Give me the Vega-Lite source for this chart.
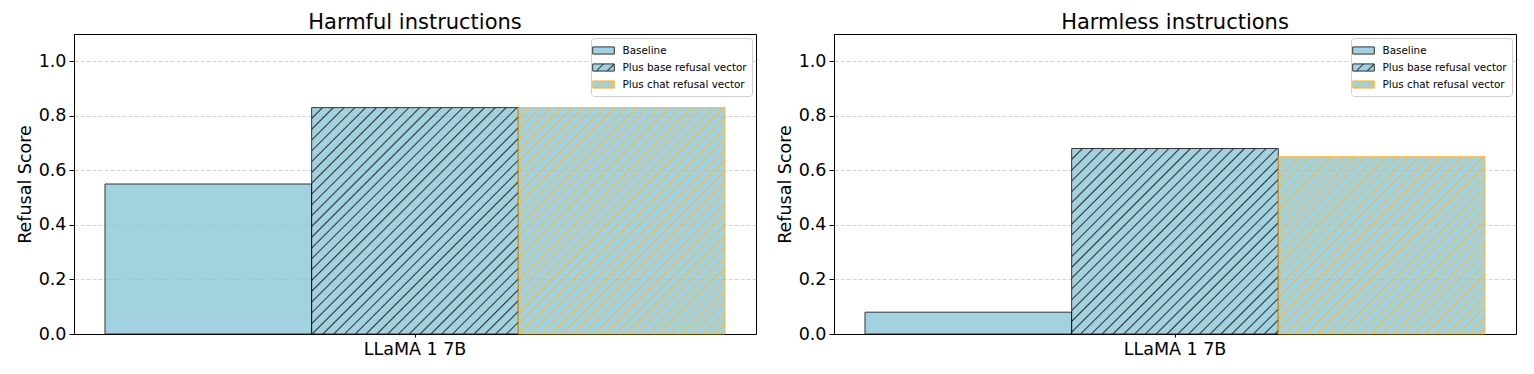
{
  "$schema": "https://vega.github.io/schema/vega-lite/v6.json",
  "padding": {"left": 15, "top": 11, "right": 5, "bottom": 5},
  "params": [
    {"name": "hb", "value": [
      {"offset":0,"color":"#8cc8d8"},
      {"offset":0.0215,"color":"#8cc8d8"},{"offset":0.025,"color":"#000"},{"offset":0.0285,"color":"#8cc8d8"},
      {"offset":0.0465,"color":"#8cc8d8"},{"offset":0.05,"color":"#000"},{"offset":0.0535,"color":"#8cc8d8"},
      {"offset":0.0715,"color":"#8cc8d8"},{"offset":0.075,"color":"#000"},{"offset":0.0785,"color":"#8cc8d8"},
      {"offset":0.0965,"color":"#8cc8d8"},{"offset":0.1,"color":"#000"},{"offset":0.1035,"color":"#8cc8d8"},
      {"offset":0.1215,"color":"#8cc8d8"},{"offset":0.125,"color":"#000"},{"offset":0.1285,"color":"#8cc8d8"},
      {"offset":0.1465,"color":"#8cc8d8"},{"offset":0.15,"color":"#000"},{"offset":0.1535,"color":"#8cc8d8"},
      {"offset":0.1715,"color":"#8cc8d8"},{"offset":0.175,"color":"#000"},{"offset":0.1785,"color":"#8cc8d8"},
      {"offset":0.1965,"color":"#8cc8d8"},{"offset":0.2,"color":"#000"},{"offset":0.2035,"color":"#8cc8d8"},
      {"offset":0.2215,"color":"#8cc8d8"},{"offset":0.225,"color":"#000"},{"offset":0.2285,"color":"#8cc8d8"},
      {"offset":0.2465,"color":"#8cc8d8"},{"offset":0.25,"color":"#000"},{"offset":0.2535,"color":"#8cc8d8"},
      {"offset":0.2715,"color":"#8cc8d8"},{"offset":0.275,"color":"#000"},{"offset":0.2785,"color":"#8cc8d8"},
      {"offset":0.2965,"color":"#8cc8d8"},{"offset":0.3,"color":"#000"},{"offset":0.3035,"color":"#8cc8d8"},
      {"offset":0.3215,"color":"#8cc8d8"},{"offset":0.325,"color":"#000"},{"offset":0.3285,"color":"#8cc8d8"},
      {"offset":0.3465,"color":"#8cc8d8"},{"offset":0.35,"color":"#000"},{"offset":0.3535,"color":"#8cc8d8"},
      {"offset":0.3715,"color":"#8cc8d8"},{"offset":0.375,"color":"#000"},{"offset":0.3785,"color":"#8cc8d8"},
      {"offset":0.3965,"color":"#8cc8d8"},{"offset":0.4,"color":"#000"},{"offset":0.4035,"color":"#8cc8d8"},
      {"offset":0.4215,"color":"#8cc8d8"},{"offset":0.425,"color":"#000"},{"offset":0.4285,"color":"#8cc8d8"},
      {"offset":0.4465,"color":"#8cc8d8"},{"offset":0.45,"color":"#000"},{"offset":0.4535,"color":"#8cc8d8"},
      {"offset":0.4715,"color":"#8cc8d8"},{"offset":0.475,"color":"#000"},{"offset":0.4785,"color":"#8cc8d8"},
      {"offset":0.4965,"color":"#8cc8d8"},{"offset":0.5,"color":"#000"},{"offset":0.5035,"color":"#8cc8d8"},
      {"offset":0.5215,"color":"#8cc8d8"},{"offset":0.525,"color":"#000"},{"offset":0.5285,"color":"#8cc8d8"},
      {"offset":0.5465,"color":"#8cc8d8"},{"offset":0.55,"color":"#000"},{"offset":0.5535,"color":"#8cc8d8"},
      {"offset":0.5715,"color":"#8cc8d8"},{"offset":0.575,"color":"#000"},{"offset":0.5785,"color":"#8cc8d8"},
      {"offset":0.5965,"color":"#8cc8d8"},{"offset":0.6,"color":"#000"},{"offset":0.6035,"color":"#8cc8d8"},
      {"offset":0.6215,"color":"#8cc8d8"},{"offset":0.625,"color":"#000"},{"offset":0.6285,"color":"#8cc8d8"},
      {"offset":0.6465,"color":"#8cc8d8"},{"offset":0.65,"color":"#000"},{"offset":0.6535,"color":"#8cc8d8"},
      {"offset":0.6715,"color":"#8cc8d8"},{"offset":0.675,"color":"#000"},{"offset":0.6785,"color":"#8cc8d8"},
      {"offset":0.6965,"color":"#8cc8d8"},{"offset":0.7,"color":"#000"},{"offset":0.7035,"color":"#8cc8d8"},
      {"offset":0.7215,"color":"#8cc8d8"},{"offset":0.725,"color":"#000"},{"offset":0.7285,"color":"#8cc8d8"},
      {"offset":0.7465,"color":"#8cc8d8"},{"offset":0.75,"color":"#000"},{"offset":0.7535,"color":"#8cc8d8"},
      {"offset":0.7715,"color":"#8cc8d8"},{"offset":0.775,"color":"#000"},{"offset":0.7785,"color":"#8cc8d8"},
      {"offset":0.7965,"color":"#8cc8d8"},{"offset":0.8,"color":"#000"},{"offset":0.8035,"color":"#8cc8d8"},
      {"offset":0.8215,"color":"#8cc8d8"},{"offset":0.825,"color":"#000"},{"offset":0.8285,"color":"#8cc8d8"},
      {"offset":0.8465,"color":"#8cc8d8"},{"offset":0.85,"color":"#000"},{"offset":0.8535,"color":"#8cc8d8"},
      {"offset":0.8715,"color":"#8cc8d8"},{"offset":0.875,"color":"#000"},{"offset":0.8785,"color":"#8cc8d8"},
      {"offset":0.8965,"color":"#8cc8d8"},{"offset":0.9,"color":"#000"},{"offset":0.9035,"color":"#8cc8d8"},
      {"offset":0.9215,"color":"#8cc8d8"},{"offset":0.925,"color":"#000"},{"offset":0.9285,"color":"#8cc8d8"},
      {"offset":0.9465,"color":"#8cc8d8"},{"offset":0.95,"color":"#000"},{"offset":0.9535,"color":"#8cc8d8"},
      {"offset":0.9715,"color":"#8cc8d8"},{"offset":0.975,"color":"#000"},{"offset":0.9785,"color":"#8cc8d8"},
      {"offset":1,"color":"#8cc8d8"}
    ]},
    {"name": "ho", "value": [
      {"offset":0,"color":"#8cc8d8"},
      {"offset":0.0215,"color":"#8cc8d8"},{"offset":0.025,"color":"#ffa500"},{"offset":0.0285,"color":"#8cc8d8"},
      {"offset":0.0465,"color":"#8cc8d8"},{"offset":0.05,"color":"#ffa500"},{"offset":0.0535,"color":"#8cc8d8"},
      {"offset":0.0715,"color":"#8cc8d8"},{"offset":0.075,"color":"#ffa500"},{"offset":0.0785,"color":"#8cc8d8"},
      {"offset":0.0965,"color":"#8cc8d8"},{"offset":0.1,"color":"#ffa500"},{"offset":0.1035,"color":"#8cc8d8"},
      {"offset":0.1215,"color":"#8cc8d8"},{"offset":0.125,"color":"#ffa500"},{"offset":0.1285,"color":"#8cc8d8"},
      {"offset":0.1465,"color":"#8cc8d8"},{"offset":0.15,"color":"#ffa500"},{"offset":0.1535,"color":"#8cc8d8"},
      {"offset":0.1715,"color":"#8cc8d8"},{"offset":0.175,"color":"#ffa500"},{"offset":0.1785,"color":"#8cc8d8"},
      {"offset":0.1965,"color":"#8cc8d8"},{"offset":0.2,"color":"#ffa500"},{"offset":0.2035,"color":"#8cc8d8"},
      {"offset":0.2215,"color":"#8cc8d8"},{"offset":0.225,"color":"#ffa500"},{"offset":0.2285,"color":"#8cc8d8"},
      {"offset":0.2465,"color":"#8cc8d8"},{"offset":0.25,"color":"#ffa500"},{"offset":0.2535,"color":"#8cc8d8"},
      {"offset":0.2715,"color":"#8cc8d8"},{"offset":0.275,"color":"#ffa500"},{"offset":0.2785,"color":"#8cc8d8"},
      {"offset":0.2965,"color":"#8cc8d8"},{"offset":0.3,"color":"#ffa500"},{"offset":0.3035,"color":"#8cc8d8"},
      {"offset":0.3215,"color":"#8cc8d8"},{"offset":0.325,"color":"#ffa500"},{"offset":0.3285,"color":"#8cc8d8"},
      {"offset":0.3465,"color":"#8cc8d8"},{"offset":0.35,"color":"#ffa500"},{"offset":0.3535,"color":"#8cc8d8"},
      {"offset":0.3715,"color":"#8cc8d8"},{"offset":0.375,"color":"#ffa500"},{"offset":0.3785,"color":"#8cc8d8"},
      {"offset":0.3965,"color":"#8cc8d8"},{"offset":0.4,"color":"#ffa500"},{"offset":0.4035,"color":"#8cc8d8"},
      {"offset":0.4215,"color":"#8cc8d8"},{"offset":0.425,"color":"#ffa500"},{"offset":0.4285,"color":"#8cc8d8"},
      {"offset":0.4465,"color":"#8cc8d8"},{"offset":0.45,"color":"#ffa500"},{"offset":0.4535,"color":"#8cc8d8"},
      {"offset":0.4715,"color":"#8cc8d8"},{"offset":0.475,"color":"#ffa500"},{"offset":0.4785,"color":"#8cc8d8"},
      {"offset":0.4965,"color":"#8cc8d8"},{"offset":0.5,"color":"#ffa500"},{"offset":0.5035,"color":"#8cc8d8"},
      {"offset":0.5215,"color":"#8cc8d8"},{"offset":0.525,"color":"#ffa500"},{"offset":0.5285,"color":"#8cc8d8"},
      {"offset":0.5465,"color":"#8cc8d8"},{"offset":0.55,"color":"#ffa500"},{"offset":0.5535,"color":"#8cc8d8"},
      {"offset":0.5715,"color":"#8cc8d8"},{"offset":0.575,"color":"#ffa500"},{"offset":0.5785,"color":"#8cc8d8"},
      {"offset":0.5965,"color":"#8cc8d8"},{"offset":0.6,"color":"#ffa500"},{"offset":0.6035,"color":"#8cc8d8"},
      {"offset":0.6215,"color":"#8cc8d8"},{"offset":0.625,"color":"#ffa500"},{"offset":0.6285,"color":"#8cc8d8"},
      {"offset":0.6465,"color":"#8cc8d8"},{"offset":0.65,"color":"#ffa500"},{"offset":0.6535,"color":"#8cc8d8"},
      {"offset":0.6715,"color":"#8cc8d8"},{"offset":0.675,"color":"#ffa500"},{"offset":0.6785,"color":"#8cc8d8"},
      {"offset":0.6965,"color":"#8cc8d8"},{"offset":0.7,"color":"#ffa500"},{"offset":0.7035,"color":"#8cc8d8"},
      {"offset":0.7215,"color":"#8cc8d8"},{"offset":0.725,"color":"#ffa500"},{"offset":0.7285,"color":"#8cc8d8"},
      {"offset":0.7465,"color":"#8cc8d8"},{"offset":0.75,"color":"#ffa500"},{"offset":0.7535,"color":"#8cc8d8"},
      {"offset":0.7715,"color":"#8cc8d8"},{"offset":0.775,"color":"#ffa500"},{"offset":0.7785,"color":"#8cc8d8"},
      {"offset":0.7965,"color":"#8cc8d8"},{"offset":0.8,"color":"#ffa500"},{"offset":0.8035,"color":"#8cc8d8"},
      {"offset":0.8215,"color":"#8cc8d8"},{"offset":0.825,"color":"#ffa500"},{"offset":0.8285,"color":"#8cc8d8"},
      {"offset":0.8465,"color":"#8cc8d8"},{"offset":0.85,"color":"#ffa500"},{"offset":0.8535,"color":"#8cc8d8"},
      {"offset":0.8715,"color":"#8cc8d8"},{"offset":0.875,"color":"#ffa500"},{"offset":0.8785,"color":"#8cc8d8"},
      {"offset":0.8965,"color":"#8cc8d8"},{"offset":0.9,"color":"#ffa500"},{"offset":0.9035,"color":"#8cc8d8"},
      {"offset":0.9215,"color":"#8cc8d8"},{"offset":0.925,"color":"#ffa500"},{"offset":0.9285,"color":"#8cc8d8"},
      {"offset":0.9465,"color":"#8cc8d8"},{"offset":0.95,"color":"#ffa500"},{"offset":0.9535,"color":"#8cc8d8"},
      {"offset":0.9715,"color":"#8cc8d8"},{"offset":0.975,"color":"#ffa500"},{"offset":0.9785,"color":"#8cc8d8"},
      {"offset":1,"color":"#8cc8d8"}
    ]}
  ],
  "data": {"values": [
    {"panel": "Harmful instructions", "model": "LLaMA 1 7B", "series": "Baseline", "score": 0.55},
    {"panel": "Harmful instructions", "model": "LLaMA 1 7B", "series": "Plus base refusal vector", "score": 0.83},
    {"panel": "Harmful instructions", "model": "LLaMA 1 7B", "series": "Plus chat refusal vector", "score": 0.83},
    {"panel": "Harmless instructions", "model": "LLaMA 1 7B", "series": "Baseline", "score": 0.08},
    {"panel": "Harmless instructions", "model": "LLaMA 1 7B", "series": "Plus base refusal vector", "score": 0.68},
    {"panel": "Harmless instructions", "model": "LLaMA 1 7B", "series": "Plus chat refusal vector", "score": 0.65}
  ]},
  "spacing": 18,
  "hconcat": [
    {
      "title": "Harmful instructions",
      "width": 682,
      "height": 300,
      "transform": [{"filter": "datum.panel === 'Harmful instructions'"}],
      "mark": {"type": "bar", "opacity": 0.8, "strokeWidth": 1, "fill": {"expr": "(datum.series || datum.value) === 'Baseline' ? '#8cc8d8' : {gradient: 'linear', x1: 0, y1: 0, x2: datum.score ? 432*206.67/(42711+pow(datum.score*272.73,2)) : 18.05, y2: datum.score ? 432*datum.score*272.73/(42711+pow(datum.score*272.73,2)) : 5.93, stops: (datum.series || datum.value) === 'Plus base refusal vector' ? hb : ho}"}},
      "encoding": {
        "x": {"field": "model", "type": "nominal", "scale": {"paddingOuter": 0.05, "paddingInner": 0}, "axis": {"title": null, "labelAngle": 0, "tickSize": 3, "labelPadding": 3}},
        "xOffset": {"field": "series", "type": "nominal", "sort": ["Baseline", "Plus base refusal vector", "Plus chat refusal vector"], "scale": {"paddingInner": 0, "paddingOuter": 0}},
        "y": {"field": "score", "type": "quantitative", "scale": {"domain": [0, 1.1], "nice": false}, "axis": {"title": "Refusal Score", "values": [0, 0.2, 0.4, 0.6, 0.8, 1.0], "format": ".1f"}},
        "stroke": {"field": "series", "type": "nominal", "scale": {"domain": ["Baseline", "Plus base refusal vector", "Plus chat refusal vector"], "range": ["#000000", "#000000", "#ffa500"]},
          "legend": {"title": null, "orient": "top-right", "offset": 4, "symbolType": "M-1.6,-0.53H1.6V0.53H-1.6Z", "symbolSize": 182, "symbolStrokeWidth": 1, "labelFontSize": 10.4, "labelFont": "DejaVu Sans", "labelColor": "#000", "labelOffset": 11.5, "padding": 5, "fillColor": "#ffffff", "strokeColor": "#cfcfcf", "cornerRadius": 3, "rowPadding": 3,
            "encode": {"symbols": {"update": {"fill": {"signal": "datum.value === 'Baseline' ? '#8cc8d8' : {gradient: 'linear', x1: 0, y1: 0, x2: 18.05, y2: 5.93, stops: datum.value === 'Plus base refusal vector' ? hb : ho}"}, "opacity": {"value": 0.8}}}}}}
      }
    },
    {
      "title": "Harmless instructions",
      "width": 682,
      "height": 300,
      "transform": [{"filter": "datum.panel === 'Harmless instructions'"}],
      "mark": {"type": "bar", "opacity": 0.8, "strokeWidth": 1, "fill": {"expr": "(datum.series || datum.value) === 'Baseline' ? '#8cc8d8' : {gradient: 'linear', x1: 0, y1: 0, x2: datum.score ? 432*206.67/(42711+pow(datum.score*272.73,2)) : 18.05, y2: datum.score ? 432*datum.score*272.73/(42711+pow(datum.score*272.73,2)) : 5.93, stops: (datum.series || datum.value) === 'Plus base refusal vector' ? hb : ho}"}},
      "encoding": {
        "x": {"field": "model", "type": "nominal", "scale": {"paddingOuter": 0.05, "paddingInner": 0}, "axis": {"title": null, "labelAngle": 0, "tickSize": 3, "labelPadding": 3}},
        "xOffset": {"field": "series", "type": "nominal", "sort": ["Baseline", "Plus base refusal vector", "Plus chat refusal vector"], "scale": {"paddingInner": 0, "paddingOuter": 0}},
        "y": {"field": "score", "type": "quantitative", "scale": {"domain": [0, 1.1], "nice": false}, "axis": {"title": "Refusal Score", "values": [0, 0.2, 0.4, 0.6, 0.8, 1.0], "format": ".1f"}},
        "stroke": {"field": "series", "type": "nominal", "scale": {"domain": ["Baseline", "Plus base refusal vector", "Plus chat refusal vector"], "range": ["#000000", "#000000", "#ffa500"]},
          "legend": {"title": null, "orient": "top-right", "offset": 4, "symbolType": "M-1.6,-0.53H1.6V0.53H-1.6Z", "symbolSize": 182, "symbolStrokeWidth": 1, "labelFontSize": 10.4, "labelFont": "DejaVu Sans", "labelColor": "#000", "labelOffset": 11.5, "padding": 5, "fillColor": "#ffffff", "strokeColor": "#cfcfcf", "cornerRadius": 3, "rowPadding": 3,
            "encode": {"symbols": {"update": {"fill": {"signal": "datum.value === 'Baseline' ? '#8cc8d8' : {gradient: 'linear', x1: 0, y1: 0, x2: 18.05, y2: 5.93, stops: datum.value === 'Plus base refusal vector' ? hb : ho}"}, "opacity": {"value": 0.8}}}}}}
      }
    }
  ],
  "resolve": {"scale": {"stroke": "independent"}, "legend": {"stroke": "independent"}},
  "config": {
    "font": "DejaVu Sans",
    "view": {"stroke": "#000000", "strokeWidth": 1},
    "title": {"fontSize": 21, "fontWeight": "normal", "color": "#000000", "offset": 1, "baseline": "alphabetic"},
    "axis": {"labelFontSize": 17.5, "titleFontSize": 17.5, "titleFontWeight": "normal", "labelColor": "#000000", "titleColor": "#000000", "domainColor": "#000000", "tickColor": "#000000", "tickSize": 5, "labelPadding": 3, "domainWidth": 1, "tickWidth": 1},
    "axisY": {"gridColor": "#b0b0b0", "gridDash": [4, 2], "gridOpacity": 0.7, "gridWidth": 0.8, "titlePadding": 4},
    "axisX": {"grid": false}
  }
}
